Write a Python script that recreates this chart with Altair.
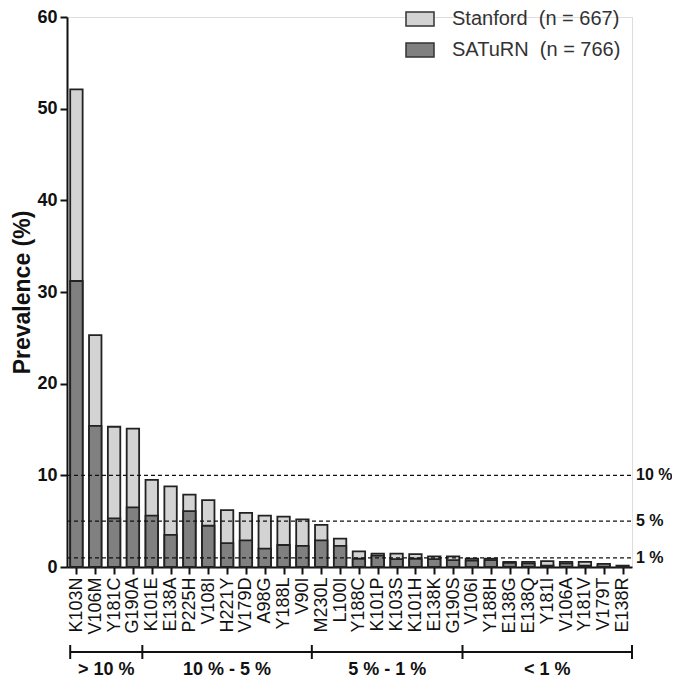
import json
import altair as alt
import pandas as pd

mutations = ["K103N", "V106M", "Y181C", "G190A", "K101E", "E138A", "P225H", "V108I",
             "H221Y", "V179D", "A98G", "Y188L", "V90I", "M230L", "L100I", "Y188C",
             "K101P", "K103S", "K101H", "E138K", "G190S", "V106I", "Y188H", "E138G",
             "E138Q", "Y181I", "V106A", "Y181V", "V179T", "E138R"]
stanford = [52.1, 25.3, 15.3, 15.1, 9.5, 8.8, 7.9, 7.3, 6.2, 5.9, 5.6, 5.5, 5.2, 4.6, 3.1,
            1.7, 1.45, 1.45, 1.4, 1.15, 1.15, 0.9, 0.9, 0.55, 0.55, 0.65, 0.55, 0.55, 0.15, 0.15]
saturn = [31.2, 15.4, 5.3, 6.5, 5.6, 3.5, 6.1, 4.5, 2.6, 2.9, 2.0, 2.4, 2.3, 2.9, 2.3,
          0.9, 1.25, 0.85, 0.9, 0.85, 0.75, 0.7, 0.75, 0.45, 0.4, 0.15, 0.4, 0.15, 0.35, 0.0]
series_names = ["Stanford", "SATuRN"]
series_n = [667, 766]
series_colors = ["#d3d3d3", "#808080"]
thresholds = [10, 5, 1]
threshold_labels = ["10 %", "5 %", "1 %"]
group_labels = ["> 10 %", "10 % - 5 %", "5 % - 1 %", "< 1 %"]
group_edges = [-0.33, 3.5, 12.5, 20.5, 29.5]

FONT = "Liberation Sans"
legend_labels = [f"{s}\u00a0\u00a0(n = {n})" for s, n in zip(series_names, series_n)]

rows = []
for lab, vals in zip(legend_labels, [stanford, saturn]):
    for i, (m, v) in enumerate(zip(mutations, vals)):
        rows.append({"series": lab, "idx": i, "mutation": m, "value": v})
bars_df = pd.DataFrame(rows)

thr_df = pd.DataFrame({"thr": thresholds, "label": threshold_labels})
edges_df = pd.DataFrame({"edge": group_edges})
groups_df = pd.DataFrame({
    "label": group_labels,
    "center": [(a + b) / 2 for a, b in zip(group_edges[:-1], group_edges[1:])],
})

xdom = [-0.5, len(mutations) - 0.5]
xscale = alt.Scale(domain=xdom, nice=False, zero=False)
yscale = alt.Scale(domain=[0, 60], nice=False)

label_expr = json.dumps(mutations) + "[datum.value]"

x_axis = alt.Axis(values=list(range(len(mutations))), labelExpr=label_expr,
                  labelAngle=270, labelAlign="right", labelBaseline="middle",
                  labelFontSize=18, labelColor="#111", labelPadding=3,
                  tickSize=7, tickWidth=2, tickColor="#111",
                  domainWidth=2, domainColor="#111", grid=False,
                  labelOverlap=False, labelBound=False, labelFlush=False, title=None)
y_axis = alt.Axis(values=list(range(0, 61, 10)), labelFontSize=18,
                  labelFontWeight="bold", labelColor="#111", labelPadding=3,
                  tickSize=7, tickWidth=2, tickColor="#111",
                  domainWidth=2, domainColor="#111", grid=False,
                  titleFontSize=23, titleFontWeight="bold", titleColor="#111",
                  titlePadding=2, title="Prevalence (%)")

bars = alt.Chart(bars_df).transform_calculate(
    x0="datum.idx - 0.33", x1="datum.idx + 0.33"
).mark_bar(stroke="#222", strokeWidth=1.8, opacity=1).encode(
    x=alt.X("x0:Q", scale=xscale, axis=x_axis),
    x2="x1:Q",
    y=alt.Y("value:Q", scale=yscale, axis=y_axis),
    y2=alt.datum(0),
    fill=alt.Fill("series:N", sort=legend_labels,
                  scale=alt.Scale(domain=legend_labels, range=series_colors),
                  legend=alt.Legend(title=None, orient="none", legendX=338, legendY=-13,
                                    symbolType="M-1,-0.5L1,-0.5L1,0.5L-1,0.5Z",
                                    symbolSize=784, symbolStrokeColor="#333",
                                    symbolStrokeWidth=1.5, symbolOpacity=1,
                                    labelFontSize=20, labelColor="#333", labelFont=FONT,
                                    labelOffset=17, rowPadding=6, labelLimit=400)),
)

dashed = alt.Chart(thr_df).mark_rule(color="#111", strokeWidth=1.2, strokeDash=[4, 3]).encode(
    x=alt.XDatum(xdom[0], scale=xscale, axis=x_axis), x2=alt.datum(xdom[1]),
    y=alt.Y("thr:Q", scale=yscale, axis=y_axis)
)

thr_text = alt.Chart(thr_df).mark_text(
    align="left", baseline="middle", dx=4, fontSize=16, fontWeight="bold", color="#111"
).encode(x=alt.XDatum(xdom[1], scale=xscale, axis=x_axis),
         y=alt.Y("thr:Q", scale=yscale, axis=y_axis), text="label:N")

bracket_h = alt.Chart(edges_df).mark_rule(color="#111", strokeWidth=2).encode(
    x=alt.XDatum(group_edges[0], scale=xscale, axis=x_axis),
    x2=alt.datum(group_edges[-1]), y=alt.value(635)
)
bracket_v = alt.Chart(edges_df).mark_rule(color="#111", strokeWidth=2).encode(
    x=alt.X("edge:Q", scale=xscale, axis=x_axis), y=alt.value(628), y2=alt.value(642)
)
group_text = alt.Chart(groups_df).mark_text(
    align="center", baseline="middle", fontSize=18, fontWeight="bold", color="#111"
).encode(x=alt.X("center:Q", scale=xscale, axis=x_axis), y=alt.value(653), text="label:N")

chart = alt.layer(bars, dashed, thr_text, bracket_h, bracket_v, group_text).properties(
    width=565, height=550,
    autosize=alt.AutoSizeParams(type="none"),
    padding={"left": 59, "top": 9, "right": 40, "bottom": 113},
).configure_view(stroke=None).configure(font=FONT).configure_axisX(labelOverlap=False)

chart.save("out.html", embed_options={"renderer": "svg", "actions": False})
